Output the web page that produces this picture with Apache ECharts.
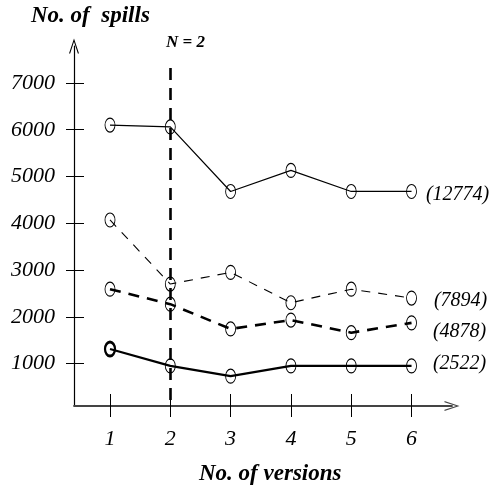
<!DOCTYPE html>
<html>
<head>
<meta charset="utf-8">
<script src="https://cdn.jsdelivr.net/npm/echarts@6/dist/echarts.min.js"></script>
<style>
html,body{margin:0;padding:0;background:#fff;}
#chart{width:492px;height:491px;}
</style>
</head>
<body>
<div id="chart"></div>
<script>
// ---- data ----
const versions = [1, 2, 3, 4, 5, 6];
const spills12774 = [6100, 6060, 4680, 5130, 4680, 4680];
const spills7894  = [4070, 2700, 2950, 2300, 2590, 2400];
const spills4878  = [2590, 2270, 1740, 1930, 1660, 1870];
const spills2522  = [1310, 950, 730, 950, 950, 950];
const endLabels = ['(12774)', '(7894)', '(4878)', '(2522)'];
const yTickValues = [1000, 2000, 3000, 4000, 5000, 6000, 7000];
const xTickValues = [1, 2, 3, 4, 5, 6];
const nVersions = 2;
const nLineTop = 7320;

const SERIF = '"Liberation Serif", "Times New Roman", serif';
const X_MIN = 0.403, X_MAX = 6.671, Y_MIN = 92, Y_MAX = 7791;
const ARROW = 'path://M6,0 L12,18 L10.6,18 L6,4 L1.4,18 L0,18 Z';

function buildData(vals, label, lab) {
  return vals.map((v, i) => {
    const item = { value: [versions[i], v] };
    if (i === vals.length - 1) {
      item.label = Object.assign({
        show: true, position: 'right', formatter: label,
        fontFamily: SERIF, fontStyle: 'italic', fontSize: 20, color: '#000'
      }, lab);
    }
    return item;
  });
}

const markerStyle = { color: 'rgba(0,0,0,0)', borderColor: '#000', borderWidth: 1 };

const d2522 = buildData(spills2522, endLabels[3], { distance: 16, offset: [0, -2] });
d2522[0].itemStyle = { borderWidth: 2.6 };

const plainNum = v => String(v);

const chart = echarts.init(document.getElementById('chart'), null, { renderer: 'canvas' });
chart.setOption({
  animation: false,
  backgroundColor: '#fff',
  title: [
    { text: 'No. of  spills', left: 31, top: 5, padding: 0,
      textStyle: { fontFamily: SERIF, fontStyle: 'italic', fontWeight: 'bold', fontSize: 23, color: '#000' } },
    { text: 'No. of versions', left: 199, top: 463, padding: 0,
      textStyle: { fontFamily: SERIF, fontStyle: 'italic', fontWeight: 'bold', fontSize: 23, color: '#000' } },
    { text: 'N = 2', left: 166, top: 34, padding: 0,
      textStyle: { fontFamily: SERIF, fontStyle: 'italic', fontWeight: 'bold', fontSize: 17, color: '#000' } }
  ],
  grid: { left: 74, right: 40, top: 46, bottom: 85, outerBoundsMode: 'none', containLabel: false },
  xAxis: [
    { type: 'value', position: 'bottom', min: X_MIN, max: X_MAX, splitLine: { show: false },
      axisLine: { show: true, onZero: false, symbol: ['none', ARROW], symbolSize: [10, 20],
        lineStyle: { color: '#444', width: 1.8 } },
      axisTick: { show: true, inside: false, length: 11, customValues: xTickValues, lineStyle: { color: '#000', width: 1 } },
      axisLabel: { show: true, customValues: xTickValues, margin: 22, formatter: plainNum,
        fontFamily: SERIF, fontStyle: 'italic', fontSize: 22, color: '#000' } },
    { type: 'value', position: 'bottom', offset: 0, min: X_MIN, max: X_MAX, splitLine: { show: false },
      axisLine: { show: false, onZero: false },
      axisTick: { show: true, inside: true, length: 12, customValues: xTickValues, lineStyle: { color: '#000', width: 1 } },
      axisLabel: { show: false } }
  ],
  yAxis: [
    { type: 'value', position: 'left', min: Y_MIN, max: Y_MAX, splitLine: { show: false },
      axisLine: { show: true, onZero: false, symbol: ['none', ARROW], symbolSize: [10, 18],
        lineStyle: { color: '#000', width: 1.2 } },
      axisTick: { show: true, inside: false, length: 8, customValues: yTickValues, lineStyle: { color: '#000', width: 1 } },
      axisLabel: { show: true, customValues: yTickValues, margin: 19, formatter: plainNum,
        fontFamily: SERIF, fontStyle: 'italic', fontSize: 22, color: '#000' } },
    { type: 'value', position: 'left', offset: 0, min: Y_MIN, max: Y_MAX, splitLine: { show: false },
      axisLine: { show: false, onZero: false },
      axisTick: { show: true, inside: true, length: 10, customValues: yTickValues, lineStyle: { color: '#000', width: 1 } },
      axisLabel: { show: false } }
  ],
  series: [
    { type: 'line', name: '12774', data: buildData(spills12774, endLabels[0], { distance: 9, offset: [0, 3] }),
      symbol: 'circle', symbolSize: [10, 14], itemStyle: markerStyle,
      lineStyle: { color: '#000', width: 1.2, type: 'solid' },
      markLine: { silent: true, symbol: 'none', label: { show: false },
        lineStyle: { color: '#000', width: 2.6, type: [12, 8] },
        data: [[{ coord: [nVersions, nLineTop] }, { coord: [nVersions, Y_MIN] }]] } },
    { type: 'line', name: '7894', data: buildData(spills7894, endLabels[1], { distance: 17, offset: [0, 3] }),
      symbol: 'circle', symbolSize: [10, 14], itemStyle: markerStyle,
      lineStyle: { color: '#000', width: 1.1, type: [9, 8] } },
    { type: 'line', name: '4878', data: buildData(spills4878, endLabels[2], { distance: 16, offset: [0, 9] }),
      symbol: 'circle', symbolSize: [10, 14], itemStyle: markerStyle,
      lineStyle: { color: '#000', width: 2.6, type: [11, 8] } },
    { type: 'line', name: '2522', data: d2522,
      symbol: 'circle', symbolSize: [10, 14], itemStyle: markerStyle,
      lineStyle: { color: '#000', width: 2.2, type: 'solid' } }
  ]
});
</script>
</body>
</html>
